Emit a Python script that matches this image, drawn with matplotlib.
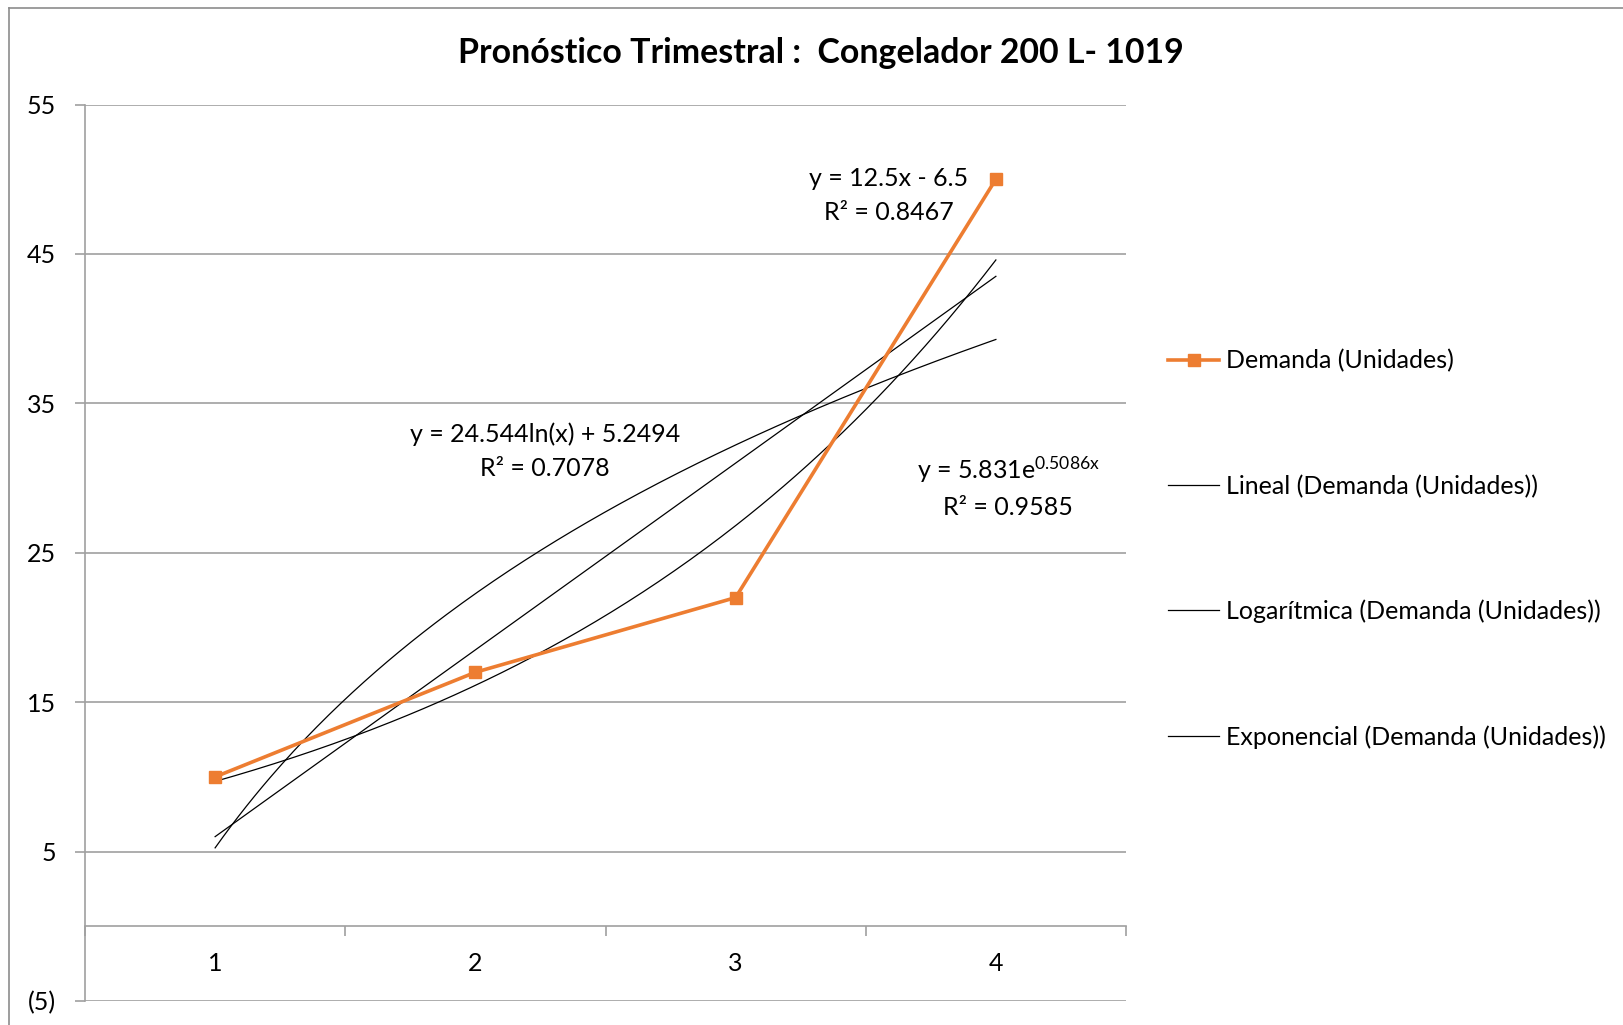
import numpy as np
import matplotlib
matplotlib.use("Agg")
import matplotlib.pyplot as plt
from matplotlib.lines import Line2D

# ---- data ----
trimestres = [1, 2, 3, 4]
demanda = [10, 17, 22, 50]
x_labels = ["1", "2", "3", "4"]
y_ticks = [-5, 5, 15, 25, 35, 45, 55]
y_tick_labels = ["(5)", "5", "15", "25", "35", "45", "55"]
title = "Pronóstico Trimestral :  Congelador 200 L- 1019"
legend_labels = ["Demanda (Unidades)", "Lineal (Demanda (Unidades))",
                 "Logarítmica (Demanda (Unidades))", "Exponencial (Demanda (Unidades))"]

plt.rcParams['font.family'] = ['Lato', 'DejaVu Sans']
plt.rcParams['mathtext.fontset'] = 'custom'
plt.rcParams['mathtext.rm'] = 'Lato'
plt.rcParams['mathtext.it'] = 'Lato:italic'

W, H = 1623, 1025
fig = plt.figure(figsize=(W / 100, H / 100), dpi=100)
fig.patch.set_facecolor('white')

GRID = '#A0A0A0'
ORANGE = '#ED7D31'
FS = 18

ax = fig.add_axes([85 / W, 1 - 1001 / H, (1126 - 85) / W, (1001 - 104.5) / H])
ax.set_xlim(0.5, 4.5)
ax.set_ylim(-5, 55)

# fits (Excel trendlines)
x = np.array(trimestres, dtype=float)
y = np.array(demanda, dtype=float)
xs = np.linspace(1, 4, 200)
lin = np.polyfit(x, y, 1)
logc = np.polyfit(np.log(x), y, 1)
expc = np.polyfit(x, np.log(y), 1)

ax.plot(x, y, color=ORANGE, lw=2.6, marker='s', ms=9, zorder=5)
ax.plot(xs, np.polyval(lin, xs), color='black', lw=0.9, zorder=4)
ax.plot(xs, logc[0] * np.log(xs) + logc[1], color='black', lw=0.9, zorder=4)
ax.plot(xs, np.exp(expc[1]) * np.exp(expc[0] * xs), color='black', lw=0.9, zorder=4)

# axes styling
for s in ['top', 'right']:
    ax.spines[s].set_visible(False)
ax.spines['left'].set_color(GRID)
ax.spines['left'].set_linewidth(1.2)
ax.spines['bottom'].set_position(('data', 0))
ax.spines['bottom'].set_color(GRID)
ax.spines['bottom'].set_linewidth(1.2)

ax.set_yticks(y_ticks)
ax.set_yticklabels(y_tick_labels, fontsize=FS)
ax.tick_params(axis='y', length=7, color=GRID, width=1.2, pad=14)
ax.yaxis.grid(True, color=GRID, lw=1.2)
ax.set_axisbelow(True)

ax.set_xticks(trimestres)
ax.set_xticklabels(x_labels, fontsize=FS)
ax.set_xticks([0.5, 1.5, 2.5, 3.5, 4.5], minor=True)
ax.tick_params(axis='x', which='major', length=0, pad=18.5)
ax.tick_params(axis='x', which='minor', length=7, color=GRID, width=1.2, direction='out')

# equation labels
ax.text(3.589, 48.9, "y = 12.5x - 6.5\nR² = 0.8467", ha='center', va='center',
        fontsize=FS, linespacing=1.55)
ax.text(2.268, 31.8, "y = 24.544ln(x) + 5.2494\nR² = 0.7078", ha='center', va='center',
        fontsize=FS, linespacing=1.55)
ax.text(4.047, 30.55, r"y = 5.831e$^{\mathrm{0.5086x}}$", ha='center', va='center',
        fontsize=FS)
ax.text(4.047, 28.0, "R² = 0.9585", ha='center', va='center', fontsize=FS)

fig.text(821 / W, 1 - 53 / H, title, ha='center', va='center', fontsize=24.4, fontweight='bold')

handles = [Line2D([], [], color=ORANGE, lw=2.6, marker='s', ms=9),
           Line2D([], [], color='black', lw=0.9),
           Line2D([], [], color='black', lw=0.9),
           Line2D([], [], color='black', lw=0.9)]
fig.legend(handles, legend_labels, loc='center left', bbox_to_anchor=(1168 / W, 1 - 549 / H),
           frameon=False, fontsize=FS, labelspacing=4.07, handlelength=2.05, handletextpad=0.25,
           borderpad=0, borderaxespad=0)

# chart border (left & top visible)
fig.add_artist(Line2D([9 / W, 9 / W], [0, 1 - 8 / H], transform=fig.transFigure, color='#8C8C8C', lw=1.2))
fig.add_artist(Line2D([9 / W, 1], [1 - 8 / H, 1 - 8 / H], transform=fig.transFigure, color='#8C8C8C', lw=1.2))

fig.savefig('out.png', dpi=100)
